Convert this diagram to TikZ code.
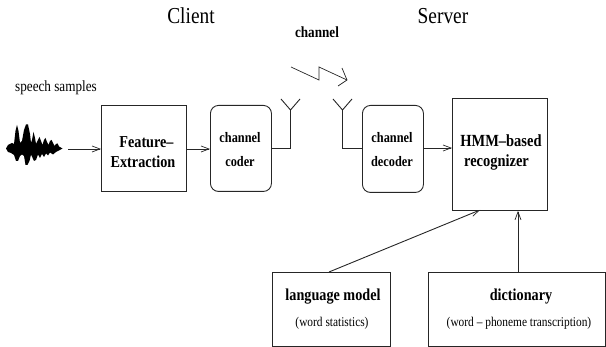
\documentclass[tikz,border=0pt]{standalone}
\usepackage{fontspec}
\setmainfont[FakeStretch=0.85]{Liberation Serif}
\usetikzlibrary{arrows.meta}
\tikzset{
  x=1pt,y=-1pt,
  line/.style={draw=black!85,line width=0.9pt},
  sq/.style={line,rectangle,inner sep=0pt,anchor=north west},
  rnd/.style={sq,rounded corners=8pt},
  link/.style={line,-{Straight Barb[length=8pt,width=6pt,line width=0.7pt]}},
  wire/.style={line},
  lab/.style={inner sep=0pt,align=center,font=\fontsize{16.7}{20}\selectfont\bfseries},
  labs/.style={inner sep=0pt,align=center,font=\fontsize{14.5}{24}\selectfont\bfseries},
  small/.style={inner sep=0pt,font=\fontsize{13.4}{15}\selectfont},
  big/.style={inner sep=0pt,font=\fontsize{22.8}{25}\selectfont},
}
\begin{document}
\begin{tikzpicture}
\useasboundingbox (0,0) rectangle (606,347);
\node[big] (client) at (191,16) {Client};
\node[big] (server) at (443,16) {Server};
\node[labs,font=\fontsize{15.5}{18}\selectfont\bfseries] (chan) at (317,32) {channel};
\node[inner sep=0pt,font=\fontsize{15.5}{18}\selectfont] (speech) at (56,88) {speech samples};
\fill[black] (6,148.5)
 -- (8,145) -- (12,143) -- (14,144) -- (15.5,131) -- (17,125) -- (18.5,131) -- (20,143) -- (22,141) -- (24,130) -- (26,124.5) -- (28,124.5) -- (30,134) -- (31,143)
 -- (32,140) -- (33.5,132) -- (35,138) -- (36,144) -- (38,140) -- (39.5,137) -- (41,141) -- (42.5,145) -- (44,140) -- (45.5,138) -- (47,142) -- (48.5,145)
 -- (50,141) -- (51.5,140) -- (53,143) -- (54.5,146) -- (56,144) -- (57.5,143.5) -- (59,146.5) -- (62.5,148.5)
 -- (59,150.5) -- (56,152) -- (53,154.5) -- (50,152.5) -- (48,155.5) -- (46,153.5) -- (44,157) -- (42,154) -- (40,158) -- (38,154.5)
 -- (36,160) -- (34,161) -- (31,154.5) -- (29.5,161) -- (27.5,165) -- (25.5,165) -- (24,156) -- (22,154.5) -- (20,156) -- (18,161) -- (16,161) -- (14,155)
 -- (11,153) -- (8,152) -- cycle;
\coordinate (wave) at (68,149);
\node[sq,minimum width=85pt,minimum height=86pt] (fe) at (101,105) {};
\node[lab] (fet) at (143,152) {\hspace*{7pt}Feature--\\Extraction};
\node[rnd,minimum width=61pt,minimum height=86pt] (cc) at (210,105) {};
\node[labs] (cct) at (240,150) {channel\\coder};
\node[rnd,minimum width=61pt,minimum height=87pt] (cd) at (362,105) {};
\node[labs] (cdt) at (392,150) {channel\\decoder};
\node[sq,minimum width=95pt,minimum height=111.5pt] (hmm) at (452,98.5) {};
\node[lab,font=\fontsize{17}{20}\selectfont\bfseries] (hmmt) at (501,152) {HMM--based\\\hspace*{-9pt}recognizer};
\node[sq,minimum width=118pt,minimum height=74pt] (lm) at (272,272) {};
\node[lab] (lmt) at (333,297) {language model};
\node[small] (lms) at (332,323) {(word statistics)};
\node[sq,minimum width=177pt,minimum height=74pt] (dict) at (428,272) {};
\node[lab] (dictt) at (521,297) {dictionary};
\node[small] (dicts) at (519,323) {(word -- phoneme transcription)};
\coordinate (a1) at (290.5,110);
\coordinate (a2) at (342.5,110);
\coordinate (j1) at (290.5,148);
\coordinate (j2) at (342.5,148);
\draw[link] (wave) -- (fe.west |- wave);
\draw[link] (fe.east |- wave) -- (cc.west |- wave);
\draw[wire] (cc.east |- j1) -- (j1) -- (a1);
\draw[wire] (a1) -- ++(-9.5,-11) (a1) -- ++(9.5,-11);
\draw[wire] (cd.west |- j2) -- (j2) -- (a2);
\draw[wire] (a2) -- ++(-9.5,-11) (a2) -- ++(9.5,-11);
\draw[link] (cd.east |- j2) -- (hmm.west |- j2);
\coordinate (z1) at (291,67);
\coordinate (z2) at (319,80);
\coordinate (z3) at (319,67);
\coordinate (z4) at (347,80);
\draw[line,line width=0.7pt] (z1) -- (z2) -- (z3) -- (z4);
\draw[line,line width=0.7pt] (342,68) -- (z4) -- (338,86);
\coordinate (lmo) at (329,272);
\coordinate (hl) at (480,210);
\coordinate (dio) at (518,272);
\draw[link] (lmo) -- (hl);
\draw[link] (dio) -- (dio |- hmm.south);
\end{tikzpicture}
\end{document}
